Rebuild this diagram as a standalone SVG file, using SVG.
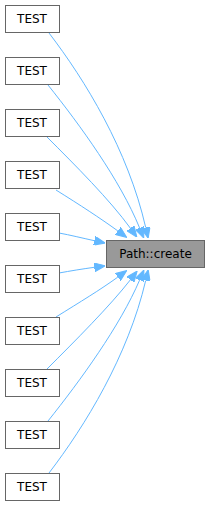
<svg xmlns="http://www.w3.org/2000/svg" width="210" height="506" viewBox="0 0 210 506">
<style>
.node rect{fill:#ffffff;stroke:#666666;stroke-width:1}
.node.cur rect{fill:#999999}
.node text{font-family:"DejaVu Sans",sans-serif;font-size:12px;fill:#000000;text-anchor:middle}
.edge{fill:none;stroke:#63b8ff;stroke-width:1}
</style>
<defs>
<marker id="ah" viewBox="0 0 11 9" refX="0" refY="4.5" markerWidth="11" markerHeight="9" markerUnits="userSpaceOnUse" orient="auto">
<path d="M0,0 L11,4.5 L0,9 z" fill="#63b8ff" stroke="#63b8ff" stroke-width="1"/>
</marker>
</defs>
<g id="edges">
<path class="edge" marker-end="url(#ah)" d="M49,33 C85,80 128,150 145.7,227.5"/>
<path class="edge" marker-end="url(#ah)" d="M48,85 C80,125 120,180 139.6,227.9"/>
<path class="edge" marker-end="url(#ah)" d="M47,137 C75,165 110,200 130.4,228.2"/>
<path class="edge" marker-end="url(#ah)" d="M56,190 C80,205 100,218 117.8,230.9"/>
<path class="edge" marker-end="url(#ah)" d="M59,233 C70,235 82,238 94.3,240.7"/>
<path class="edge" marker-end="url(#ah)" d="M59,273 C70,271 82,269 94.3,267.3"/>
<path class="edge" marker-end="url(#ah)" d="M56,317 C80,302 100,290 117.8,277.1"/>
<path class="edge" marker-end="url(#ah)" d="M47,369 C75,341 110,306 130.4,279.8"/>
<path class="edge" marker-end="url(#ah)" d="M48,421 C80,381 120,326 139.6,280.1"/>
<path class="edge" marker-end="url(#ah)" d="M49,473 C85,426 128,356 145.7,280.5"/>
</g>
<g id="node1" class="node"><rect x="5.5" y="5.5" width="54" height="27"/><text x="32" y="23">TEST</text></g>
<g id="node2" class="node"><rect x="5.5" y="57.5" width="54" height="27"/><text x="32" y="75">TEST</text></g>
<g id="node3" class="node"><rect x="5.5" y="109.5" width="54" height="27"/><text x="32" y="127">TEST</text></g>
<g id="node4" class="node"><rect x="5.5" y="161.5" width="54" height="27"/><text x="32" y="179">TEST</text></g>
<g id="node5" class="node"><rect x="5.5" y="213.5" width="54" height="27"/><text x="32" y="231">TEST</text></g>
<g id="node6" class="node"><rect x="5.5" y="265.5" width="54" height="27"/><text x="32" y="283">TEST</text></g>
<g id="node7" class="node"><rect x="5.5" y="317.5" width="54" height="27"/><text x="32" y="335">TEST</text></g>
<g id="node8" class="node"><rect x="5.5" y="369.5" width="54" height="27"/><text x="32" y="387">TEST</text></g>
<g id="node9" class="node"><rect x="5.5" y="421.5" width="54" height="27"/><text x="32" y="439">TEST</text></g>
<g id="node10" class="node"><rect x="5.5" y="473.5" width="54" height="27"/><text x="32" y="491">TEST</text></g>
<g id="main" class="node cur"><rect x="106.5" y="240.5" width="98" height="27"/><text x="155.5" y="258">Path::create</text></g>
</svg>
